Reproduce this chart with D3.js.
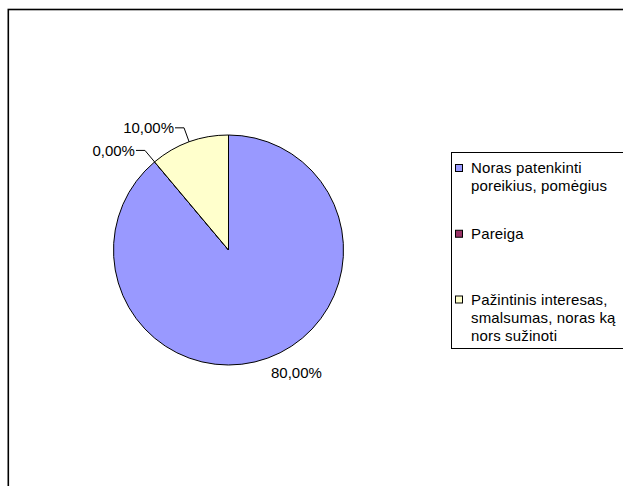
<!DOCTYPE html>
<html>
<head>
<meta charset="utf-8">
<script src="https://cdn.jsdelivr.net/npm/d3@7"></script>
<style>
  body { margin: 0; background: #fff; }
  svg text { font-family: "Liberation Sans", Arial, sans-serif; font-size: 15px; fill: #000; }
</style>
</head>
<body>
<script>
// chart data
var categories = ["Noras patenkinti poreikius, pomėgius", "Pareiga", "Pažintinis interesas, smalsumas, noras ką nors sužinoti"];
var values = [80, 0, 10];
var legendLines = [
  ["Noras patenkinti", "poreikius, pomėgius"],
  ["Pareiga"],
  ["Pažintinis interesas,", "smalsumas, noras ką", "nors sužinoti"]
];
var colors = ["#9999FF", "#993366", "#FFFFCC"];

var svgWidth = 623;
var svgHeight = 486;

var svg = d3.select("body")
  .append("svg")
  .attr("width", svgWidth)
  .attr("height", svgHeight);

// chart area frame (runs off the right and bottom edge)
svg.append("rect")
  .attr("x", 8.3)
  .attr("y", 9.5)
  .attr("width", 800)
  .attr("height", 800)
  .attr("fill", "none")
  .attr("stroke", "#000")
  .attr("stroke-width", 1.6);

var locale = d3.formatLocale({ decimal: ",", thousands: " ", grouping: [3], currency: ["", ""] });
var fmt = locale.format(".2f");

var cx = 228.5, cy = 250, radius = 115;

var pie = d3.pie().sort(null).value(function(d) { return d; });
var arcs = pie(values);

var arc = d3.arc().innerRadius(0).outerRadius(radius);
var labelArc = d3.arc().innerRadius(130).outerRadius(130);
var edgeArc = d3.arc().innerRadius(radius).outerRadius(radius);

var pieGroup = svg.append("g")
  .attr("transform", `translate(${cx}, ${cy})`);

pieGroup.selectAll("path.slice")
  .data(arcs)
  .enter()
  .append("path")
  .attr("class", "slice")
  .attr("d", arc)
  .attr("fill", function(d, i) { return colors[i]; })
  .attr("stroke", "#000")
  .attr("stroke-width", 1);

// labels: left-hand ones get an elbow leader, others sit just outside
arcs.forEach(function(d, i) {
  var mid = (d.startAngle + d.endAngle) / 2;
  var p = labelArc.centroid(d);
  var e = edgeArc.centroid(d);
  var text = fmt(values[i]) + "%";
  if (Math.sin(mid) < 0) {
    pieGroup.append("polyline")
      .attr("points", [[e[0], e[1]], [p[0], p[1]], [p[0] - 9, p[1]]].map(function(q) { return q.join(","); }).join(" "))
      .attr("fill", "none")
      .attr("stroke", "#000")
      .attr("stroke-width", 1);
    pieGroup.append("text")
      .attr("x", p[0] - 10)
      .attr("y", p[1])
      .attr("dy", "0.35em")
      .attr("text-anchor", "end")
      .text(text);
  } else {
    pieGroup.append("text")
      .attr("x", p[0] - 2)
      .attr("y", p[1] + 1)
      .attr("dy", "0.35em")
      .attr("text-anchor", "start")
      .text(text);
  }
});

// legend
var legend = svg.append("g");
legend.append("rect")
  .attr("x", 451.5)
  .attr("y", 152.5)
  .attr("width", 300)
  .attr("height", 196)
  .attr("fill", "#fff")
  .attr("stroke", "#000")
  .attr("stroke-width", 1);

var legendY = d3.scaleLinear().domain([0, 2]).range([168, 299.5]);
var lineHeight = 18;

var items = legend.selectAll("g.item")
  .data(categories)
  .enter()
  .append("g")
  .attr("class", "item")
  .attr("transform", function(d, i) { return `translate(0, ${legendY(i)})`; });

items.append("rect")
  .attr("x", 455.5)
  .attr("y", -3.5)
  .attr("width", 7)
  .attr("height", 7)
  .attr("fill", function(d, i) { return colors[i]; })
  .attr("stroke", "#000")
  .attr("stroke-width", 1);

items.each(function(d, i) {
  var g = d3.select(this);
  legendLines[i].forEach(function(line, j) {
    g.append("text")
      .attr("x", 471)
      .attr("y", j * lineHeight)
      .attr("dy", "0.35em")
      .style("letter-spacing", "0.15px")
      .text(line);
  });
});
</script>
</body>
</html>
